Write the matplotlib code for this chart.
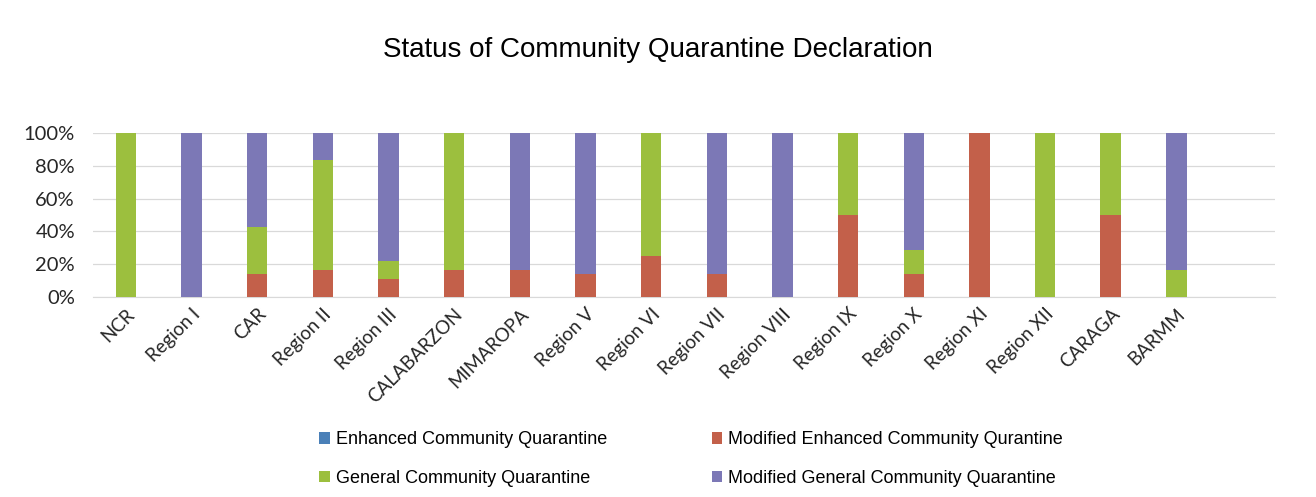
import numpy as np
import matplotlib
matplotlib.use("Agg")
import matplotlib.pyplot as plt
from matplotlib.ticker import PercentFormatter

plt.rcParams['font.family'] = ['Liberation Sans', 'DejaVu Sans']

regions = ["NCR", "Region I", "CAR", "Region II", "Region III", "CALABARZON",
           "MIMAROPA", "Region V", "Region VI", "Region VII", "Region VIII",
           "Region IX", "Region X", "Region XI", "Region XII", "CARAGA", "BARMM"]

# shares (%) per region
ecq = [0, 0, 0, 0, 0, 0, 0, 0, 0, 0, 0, 0, 0, 0, 0, 0, 0]
mecq = [0, 0, 14.3, 16.7, 11.1, 16.7, 16.7, 14.3, 25, 14.3, 0, 50, 14.3, 100, 0, 50, 0]
gcq = [100, 0, 28.6, 66.7, 11.1, 83.3, 0, 0, 75, 0, 0, 50, 14.3, 0, 100, 50, 16.7]
mgcq = [0, 100, 57.1, 16.6, 77.8, 0, 83.3, 85.7, 0, 85.7, 100, 0, 71.4, 0, 0, 0, 83.3]

series_names = ["Enhanced Community Quarantine", "Modified Enhanced Community Qurantine",
                "General Community Quarantine", "Modified General Community Quarantine"]
colors = ["#4a80b8", "#c3604a", "#9cbf3e", "#7c78b6"]

fig = plt.figure(figsize=(13.16, 4.97), dpi=100)
ax = fig.add_axes([0.0707, 0.4024, 0.898, 0.33])

x = np.arange(len(regions))
width = 0.31
bottom = np.zeros(len(regions))
bars = []
for vals, name, col in zip([ecq, mecq, gcq, mgcq], series_names, colors):
    b = ax.bar(x, vals, width, bottom=bottom, color=col, label=name, zorder=3)
    bars.append(b)
    bottom += np.array(vals)

ax.set_ylim(0, 100)
ax.set_xlim(-0.5, len(regions) + 0.5)
ax.set_yticks([0, 20, 40, 60, 80, 100])
ax.yaxis.set_major_formatter(PercentFormatter(decimals=0))
ax.set_xticks(x)
ax.set_xticklabels(regions, rotation=45, ha="right", rotation_mode="anchor",
                   fontsize=13.5, family="Lato", color="#262626")
for lbl in ax.get_yticklabels():
    lbl.set_family("Lato")
ax.tick_params(axis="y", labelsize=14.5, length=0, pad=13, labelcolor="#262626")
ax.tick_params(axis="x", length=0, pad=6)
ax.grid(axis="y", color="#d9d9d9", linewidth=0.9, zorder=0)
for s in ["top", "right", "left"]:
    ax.spines[s].set_visible(False)
ax.spines["bottom"].set_color("#d9d9d9")

fig.text(0.5, 0.9, "Status of Community Quarantine Declaration", ha="center", va="center",
         fontsize=20)

# legend: row 1 ECQ / MECQ, row 2 GCQ / MGCQ
handles = [bars[0], bars[2], bars[1], bars[3]]
labels = [series_names[0], series_names[2], series_names[1], series_names[3]]
fig.legend(handles, labels, ncol=2, loc="center", bbox_to_anchor=(0.525, 0.076),
           frameon=False, fontsize=13, handlelength=0.6, handleheight=0.6,
           handletextpad=0.3, columnspacing=5.8, labelspacing=1.2)

fig.savefig("out.png", dpi=100)
